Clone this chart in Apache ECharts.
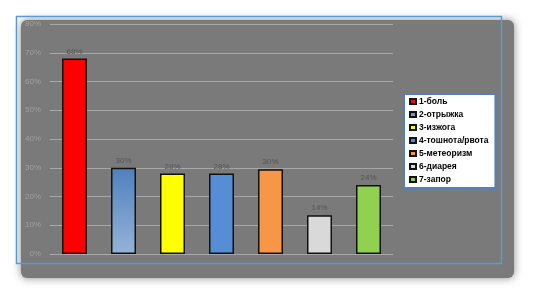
<!DOCTYPE html>
<html><head><meta charset="utf-8">
<script src="https://cdn.jsdelivr.net/npm/echarts@6/dist/echarts.min.js"></script>
<style>html,body{margin:0;padding:0;background:#fff}#c{width:540px;height:302px}</style>
</head><body><div id="c"></div>
<script>
const categories = ['1-боль','2-отрыжка','3-изжога','4-тошнота/рвота','5-метеоризм','6-диарея','7-запор'];
const values = [68, 30, 28, 28, 29.5, 13.5, 24];
const colors = ['#ff0000', null, '#ffff00', '#558ed5', '#f79646', '#d9d9d9', '#92d050'];
const yTicks = [0, 10, 20, 30, 40, 50, 60, 70, 80];

const chart = echarts.init(document.getElementById('c'), null, {renderer:'canvas'});
const blueGrad = new echarts.graphic.LinearGradient(0,0,0,1,[{offset:0,color:'#4f81bd'},{offset:1,color:'#95b3d7'}]);
const series = categories.map((name,i)=>({
  name: name,
  type: 'bar',
  stack: 'all',
  barWidth: 25,
  data: categories.map((c,j)=> j===i ? values[i] : null),
  itemStyle: {color: colors[i] || blueGrad, borderColor:'#111', borderWidth:1.5},
  label: {show:true, position:'top', distance:3, color:'#555', fontSize:8, fontFamily:'Liberation Sans',
          formatter: p => Math.round(p.value) + '%'}
}));

chart.setOption({
  animation:false,
  graphic:[
    {type:'rect', z:-10, silent:true, shape:{x:21,y:20,width:493,height:258,r:6},
     style:{fill:'#7a7a7a', shadowBlur:8, shadowColor:'rgba(122,122,122,0.9)'}},
    {type:'rect', z:100, silent:true, shape:{x:16.5,y:16.5,width:485,height:247},
     style:{fill:null, stroke:'#5b9bd5', lineWidth:1.5}}
  ],
  grid:{left:50, right:147, top:24, bottom:48},
  legend:{
    orient:'vertical', left:404, top:94, z:110,
    backgroundColor:'#fff', borderColor:'#4f81bd', borderWidth:2, borderRadius:0,
    padding:[3,7,4,5], itemWidth:6, itemHeight:5, itemGap:4,
    icon:'rect',
    textStyle:{fontSize:8.5, fontWeight:'bold', color:'#000', fontFamily:'Liberation Sans', padding:[0,0,0,-2]},
    data: categories
  },
  xAxis:{type:'category', data:categories, axisLine:{show:false}, axisTick:{show:false}, axisLabel:{show:false}},
  yAxis:{type:'value', min:yTicks[0], max:yTicks[yTicks.length-1], interval:10,
    axisLine:{show:false}, axisTick:{show:false},
    axisLabel:{formatter:'{value}%', color:'#a0a0a0', fontSize:8, fontFamily:'Liberation Sans', margin:9},
    splitLine:{lineStyle:{color:'#a8a8a8', width:1}}},
  series: series
});
</script></body></html>
